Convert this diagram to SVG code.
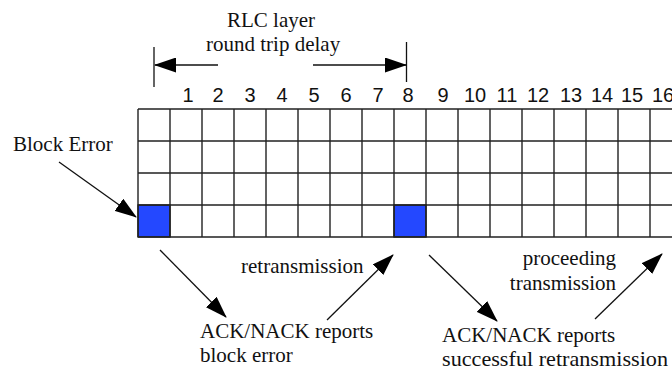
<svg xmlns="http://www.w3.org/2000/svg" width="672" height="370" viewBox="0 0 672 370">
  <style>
    .serif { font-family: "Liberation Serif", "Times New Roman", serif; font-size: 21px; fill: #111; }
    .num { font-family: "Liberation Sans", Arial, sans-serif; font-size: 20px; fill: #111; text-anchor: middle; }
    .grid { stroke: #222; stroke-width: 1.4; fill: none; }
    .cell-err { fill: #2448ff; stroke: #222; stroke-width: 1.4; }
    .conn { stroke: #111; stroke-width: 1.3; fill: none; marker-end: url(#head); }
    .tick { stroke: #111; stroke-width: 1.3; }
  </style>
  <defs>
    <marker id="head" markerUnits="userSpaceOnUse" markerWidth="22" markerHeight="15" refX="21" refY="7.5" orient="auto">
      <path d="M0,0 L22,7.5 L0,15 z" fill="#000"/>
    </marker>
  </defs>
  <rect width="672" height="370" fill="#fff"/>

  <!-- round trip delay span -->
  <g id="rtt">
    <text class="serif" x="227" y="27">RLC layer</text>
    <text class="serif" x="206" y="51">round trip delay</text>
    <line class="tick" x1="154" y1="47" x2="154" y2="87"/>
    <line class="tick" x1="406.5" y1="42" x2="406.5" y2="82"/>
  </g>

  <!-- block sequence numbers -->
  <g id="numbers">
    <text class="num" x="188" y="102">1</text>
    <text class="num" x="218" y="102">2</text>
    <text class="num" x="250" y="102">3</text>
    <text class="num" x="282" y="102">4</text>
    <text class="num" x="314" y="102">5</text>
    <text class="num" x="346" y="102">6</text>
    <text class="num" x="378" y="102">7</text>
    <text class="num" x="408" y="102">8</text>
    <text class="num" x="443" y="102">9</text>
    <text class="num" x="475" y="102">10</text>
    <text class="num" x="507" y="102">11</text>
    <text class="num" x="538" y="102">12</text>
    <text class="num" x="571" y="102">13</text>
    <text class="num" x="602" y="102">14</text>
    <text class="num" x="632" y="102">15</text>
    <text class="num" x="663" y="102">16</text>
  </g>

  <!-- block grid: 4 rows, columns of 32 px -->
  <g id="grid">
    <rect class="cell-err" x="138" y="205" width="32" height="32"/>
    <rect class="cell-err" x="394" y="205" width="32" height="32"/>
    <path class="grid" d="M138,109 H680 M138,141 H680 M138,173 H680 M138,205 H680 M138,237 H680
      M138,109 V237 M170,109 V237 M202,109 V237 M234,109 V237 M266,109 V237 M298,109 V237
      M330,109 V237 M362,109 V237 M394,109 V237 M426,109 V237 M458,109 V237 M490,109 V237
      M522,109 V237 M554,109 V237 M586,109 V237 M618,109 V237 M650,109 V237"/>
  </g>

  <g id="block-error">
    <text class="serif" x="13" y="151">Block Error</text>
  </g>
  <g id="ack-error">
    <text class="serif" x="200" y="338">ACK/NACK reports</text>
    <text class="serif" x="200" y="362">block error</text>
  </g>
  <g id="retransmission">
    <text class="serif" x="241" y="273">retransmission</text>
  </g>
  <g id="ack-success">
    <text class="serif" x="442" y="342">ACK/NACK reports</text>
    <text class="serif" x="442" y="366" textLength="226" lengthAdjust="spacingAndGlyphs">successful retransmission</text>
  </g>
  <g id="proceeding">
    <text class="serif" x="616" y="265" text-anchor="end">proceeding</text>
    <text class="serif" x="616" y="290" text-anchor="end">transmission</text>
  </g>

  <!-- connectors -->
  <g id="connectors">
    <line class="conn" x1="218" y1="65" x2="155" y2="65"/>
    <line class="conn" x1="313" y1="65" x2="406" y2="65"/>
    <line class="conn" x1="59" y1="162" x2="136" y2="217"/>
    <line class="conn" x1="160" y1="250" x2="226" y2="317"/>
    <line class="conn" x1="327" y1="320" x2="393" y2="255"/>
    <line class="conn" x1="429" y1="255" x2="497" y2="321"/>
    <line class="conn" x1="595" y1="319" x2="662" y2="254"/>
  </g>
</svg>
